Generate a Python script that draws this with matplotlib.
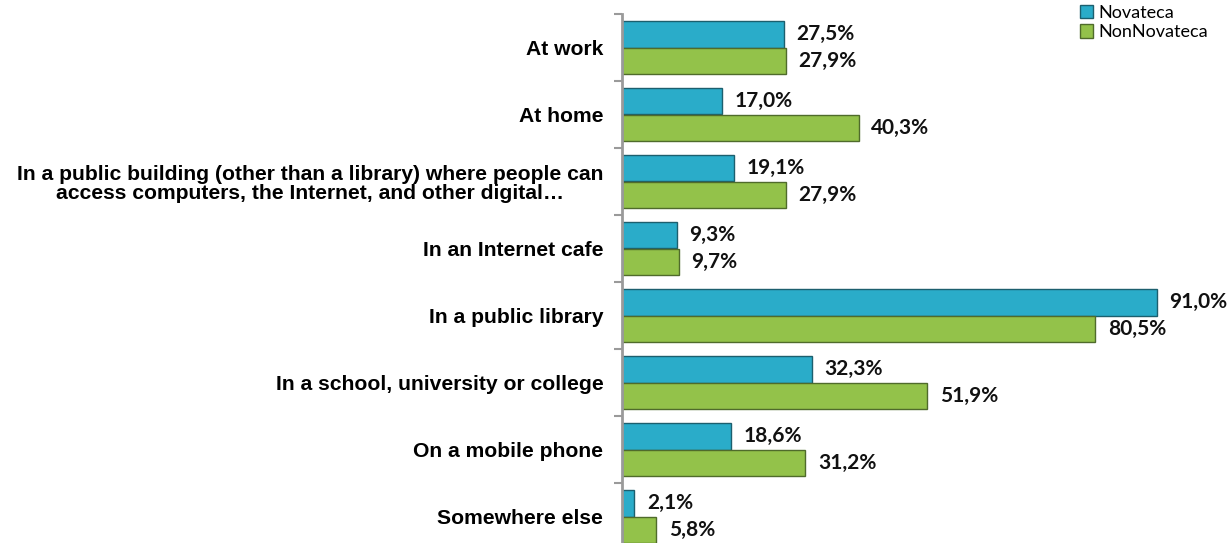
import matplotlib
matplotlib.use("Agg")
import matplotlib.pyplot as plt
import numpy as np
from matplotlib.patches import Patch

categories = [
    "At work",
    "At home",
    "In a public building (other than a library) where people can\naccess computers, the Internet, and other digital…",
    "In an Internet cafe",
    "In a public library",
    "In a school, university or college",
    "On a mobile phone",
    "Somewhere else",
]
novateca = [27.5, 17.0, 19.1, 9.3, 91.0, 32.3, 18.6, 2.1]
non_novateca = [27.9, 40.3, 27.9, 9.7, 80.5, 51.9, 31.2, 5.8]
series_names = ["Novateca", "NonNovateca"]

blue, blue_edge = "#2AACC9", "#1C5F6E"
green, green_edge = "#93C24A", "#4F6B2B"

W, H = 1229, 543
fig = plt.figure(figsize=(W / 100, H / 100), dpi=100)
ax = fig.add_axes([622 / W, (543 - 550) / H, 588 / W, 536 / H])

n = len(categories)
y = np.arange(n)
bh = 0.4
ax.barh(y - bh / 2, novateca, height=bh, color=blue, edgecolor=blue_edge, linewidth=1)
ax.barh(y + bh / 2, non_novateca, height=bh, color=green, edgecolor=green_edge, linewidth=1)

lab_kw = dict(textcoords="offset points", va="center", ha="left",
              fontsize=15, fontweight="bold", family="Lato", color="#111111")
for yi, v in zip(y, novateca):
    ax.annotate(f"{v:.1f}%".replace(".", ","), (v, yi - bh / 2), xytext=(9, 0), **lab_kw)
for yi, v in zip(y, non_novateca):
    ax.annotate(f"{v:.1f}%".replace(".", ","), (v, yi + bh / 2), xytext=(9, 0), **lab_kw)

ax.set_xlim(0, 100)
ax.set_ylim(n - 0.5, -0.5)

ax.set_yticks(y)
ax.set_yticklabels(categories, fontsize=15.2, fontweight="bold",
                   family="Liberation Sans", multialignment="center",
                   linespacing=1.05)
ax.set_yticks(np.arange(-0.5, n, 1.0), minor=True)
ax.tick_params(axis="y", which="major", length=0, pad=13.5)
ax.tick_params(axis="y", which="minor", length=6, width=1.5, color="#9A9A9A")
ax.set_xticks([])
for s in ["top", "right", "bottom"]:
    ax.spines[s].set_visible(False)
ax.spines["left"].set_color("#9A9A9A")
ax.spines["left"].set_linewidth(2)

handles = [Patch(facecolor=blue, edgecolor=blue_edge, label=series_names[0]),
           Patch(facecolor=green, edgecolor=green_edge, label=series_names[1])]
fig.legend(handles=handles, loc="upper left", bbox_to_anchor=(1076 / W, 1 - 1 / H),
           frameon=False, prop={"family": "Lato", "size": 13},
           handlelength=0.75, handleheight=0.75, handletextpad=0.3,
           labelspacing=0.2, borderaxespad=0, borderpad=0.2)

fig.savefig("out.png", dpi=100)
